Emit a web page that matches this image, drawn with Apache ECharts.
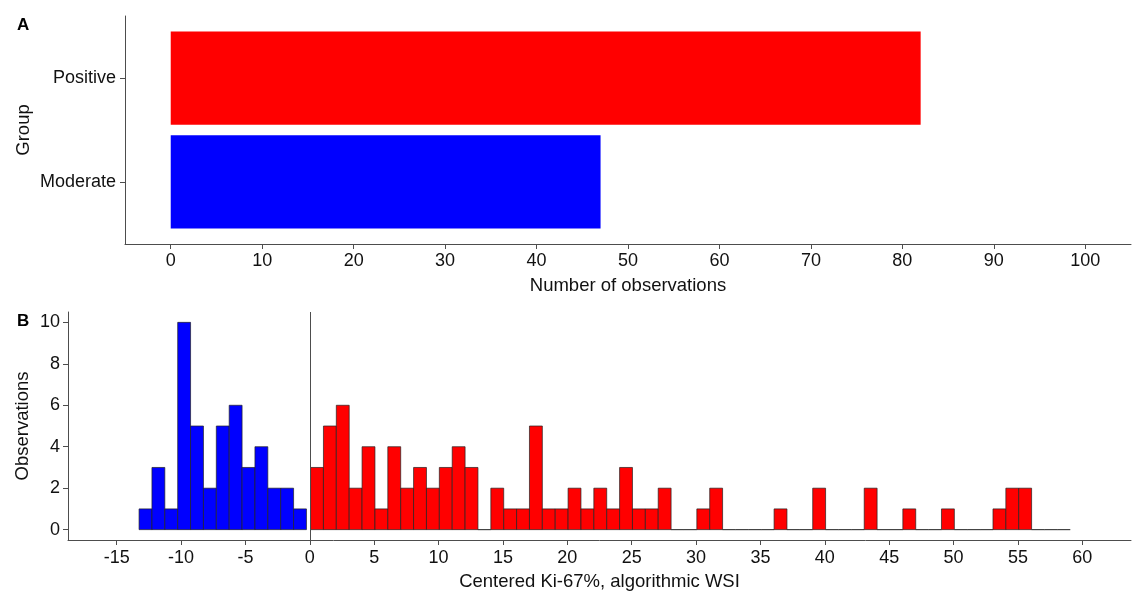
<!DOCTYPE html>
<html>
<head>
<meta charset="utf-8">
<script src="https://cdn.jsdelivr.net/npm/echarts@6/dist/echarts.min.js"></script>
<style>
html,body{margin:0;padding:0;background:#fff;}
#chart{width:1133px;height:594px;}
</style>
</head>
<body>
<div id="chart"></div>
<script>
// Panel A data
const groups = ['Moderate', 'Positive'];
const groupCounts = [47, 82];
const groupTicks = [0, 10, 20, 30, 40, 50, 60, 70, 80, 90, 100];

// Panel B data (histogram, bin width 1)
const binWidth = 1;
const moderateBinStart = -13.26;
const moderateCounts = [1, 3, 1, 10, 5, 2, 5, 6, 3, 4, 2, 2, 1];
const positiveBinStart = 0.06;
const positiveCounts = [3,5,6,2,4,1,4,2,3,2,3,4,3, 0, 2,1,1,5,1,1,2,1,2,1,3,1,1,2, 0,0, 1,2, 0,0,0,0, 1, 0,0, 2, 0,0,0, 2, 0,0, 1, 0,0, 1, 0,0,0, 1,2,2, 0,0,0];
const kiTicks = [-15, -10, -5, 0, 5, 10, 15, 20, 25, 30, 35, 40, 45, 50, 55, 60];
const obsTicks = [0, 2, 4, 6, 8, 10];

const FONT = 'Liberation Sans, Arial, sans-serif';
const AXIS_COLOR = '#4d4d4d';
const TXT = '#111';
const groupColors = ['#0000FF', '#FF0000'];

function bins(start, counts) {
  return counts.map((c, i) => [start + i * binWidth, start + (i + 1) * binWidth, c]);
}

const chart = echarts.init(document.getElementById('chart'), null, {renderer: 'canvas'});

const axisCommon = {
  axisLine: {show: true, onZero: false, lineStyle: {color: AXIS_COLOR, width: 1}},
  axisTick: {show: true, length: 5, lineStyle: {color: AXIS_COLOR, width: 1}},
  splitLine: {show: false},
  axisLabel: {color: TXT, fontFamily: FONT, fontSize: 18},
  nameMoveOverlap: false,
  nameTextStyle: {color: TXT, fontFamily: FONT, fontSize: 18.5}
};

function rectRender(fill, stroke, lw) {
  return function (params, api) {
    const p0 = api.coord([api.value(0), 0]);
    const p1 = api.coord([api.value(1), api.value(2)]);
    return {
      type: 'rect',
      shape: {x: p0[0], y: p1[1], width: p1[0] - p0[0], height: p0[1] - p1[1]},
      style: {fill: fill, stroke: stroke, lineWidth: lw}
    };
  };
}

const option = {
  animation: false,
  backgroundColor: '#fff',
  title: [
    {text: 'A', left: 12, top: 12, textStyle: {fontFamily: FONT, fontSize: 17, fontWeight: 'bold', color: '#000'}},
    {text: 'B', left: 12, top: 308, textStyle: {fontFamily: FONT, fontSize: 17, fontWeight: 'bold', color: '#000'}}
  ],
  grid: [
    {left: 125, right: 2, top: 16, height: 228, containLabel: false, outerBoundsMode: 'none'},
    {left: 68, right: 2, top: 312, height: 228, containLabel: false, outerBoundsMode: 'none'}
  ],
  xAxis: [
    Object.assign({}, axisCommon, {
      gridIndex: 0, type: 'value', min: -5, max: 105,
      name: 'Number of observations', nameLocation: 'middle', nameGap: 32,
      axisTick: Object.assign({}, axisCommon.axisTick, {customValues: groupTicks}),
      axisLabel: Object.assign({}, axisCommon.axisLabel, {customValues: groupTicks, margin: 8})
    }),
    Object.assign({}, axisCommon, {
      gridIndex: 1, type: 'value', min: -18.78, max: 63.78,
      name: 'Centered Ki-67%, algorithmic WSI', nameLocation: 'middle', nameGap: 32,
      axisTick: Object.assign({}, axisCommon.axisTick, {customValues: kiTicks}),
      axisLabel: Object.assign({}, axisCommon.axisLabel, {customValues: kiTicks, margin: 9})
    })
  ],
  yAxis: [
    Object.assign({}, axisCommon, {
      gridIndex: 0, type: 'value', min: 0.4, max: 2.6,
      name: 'Group', nameLocation: 'middle', nameGap: 92, nameRotate: 90,
      axisTick: Object.assign({}, axisCommon.axisTick, {customValues: [1, 2]}),
      axisLabel: Object.assign({}, axisCommon.axisLabel, {
        customValues: [1, 2], margin: 9,
        formatter: v => groups[Math.round(v) - 1]
      })
    }),
    Object.assign({}, axisCommon, {
      gridIndex: 1, type: 'value', min: -0.5, max: 10.5,
      name: 'Observations', nameLocation: 'middle', nameGap: 36, nameRotate: 90,
      axisTick: Object.assign({}, axisCommon.axisTick, {customValues: obsTicks}),
      axisLabel: Object.assign({}, axisCommon.axisLabel, {customValues: obsTicks, margin: 8})
    })
  ],
  series: [
    {
      type: 'custom', xAxisIndex: 0, yAxisIndex: 0,
      data: groups.map((g, i) => [groupCounts[i], i + 1]),
      renderItem: function (params, api) {
        const i = params.dataIndex;
        const p0 = api.coord([0, api.value(1) - 0.45]);
        const p1 = api.coord([api.value(0), api.value(1) + 0.45]);
        return {
          type: 'rect',
          shape: {x: p0[0], y: p1[1], width: p1[0] - p0[0], height: p0[1] - p1[1]},
          style: {fill: groupColors[i]}
        };
      }
    },
    {
      type: 'custom', xAxisIndex: 1, yAxisIndex: 1,
      data: bins(moderateBinStart, moderateCounts),
      renderItem: rectRender('#0000FF', '#222', 0.7)
    },
    {
      type: 'custom', xAxisIndex: 1, yAxisIndex: 1,
      data: bins(positiveBinStart, positiveCounts),
      renderItem: rectRender('#FF0000', '#222', 0.7),
      markLine: {
        silent: true, symbol: 'none', label: {show: false},
        lineStyle: {color: AXIS_COLOR, width: 1, type: 'solid'},
        data: [{xAxis: 0}]
      }
    }
  ]
};
chart.setOption(option);
</script>
</body>
</html>
